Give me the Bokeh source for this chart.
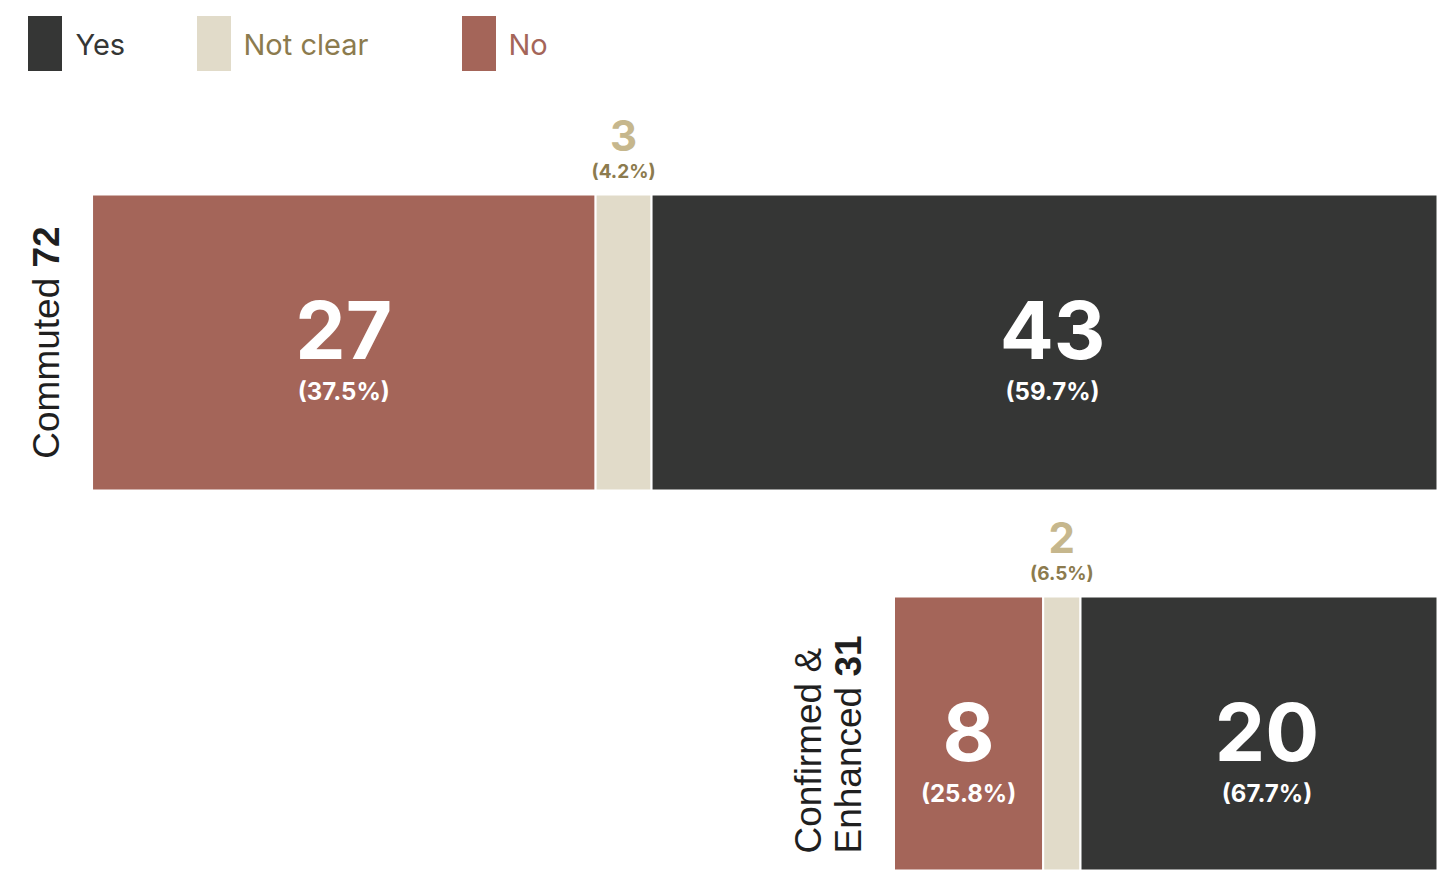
import math
from bokeh.plotting import figure
from bokeh.models import Range1d
from bokeh.embed import file_html
from bokeh.resources import INLINE
from bokeh.core.properties import value

# ---------------- data ----------------
groups = ["Commuted", "Confirmed & Enhanced"]
group_label_lines = [["Commuted"], ["Confirmed &", "Enhanced"]]
group_totals = ["72", "31"]
no_counts = [27, 8]
notclear_counts = [3, 2]
yes_counts = [43, 20]
no_pct = ["(37.5%)", "(25.8%)"]
notclear_pct = ["(4.2%)", "(6.5%)"]
yes_pct = ["(59.7%)", "(67.7%)"]
legend_labels = ["Yes", "Not clear", "No"]

# ---------------- styles ----------------
C_YES = "#353635"
C_NC = "#e1dbc9"
C_NO = "#a46559"
C_NC_NUM = "#c6b78d"
C_NC_TXT = "#8c7b4e"
legend_fill = [C_YES, C_NC, C_NO]
legend_text_col = [C_YES, C_NC_TXT, C_NO]

NUM_FONT = value("Inter")
LAB_FONT = value("Liberation Sans")

W, H = 1437, 870
PAGE_X0, PAGE_Y0 = 0, 0   # where the figure appears in the picture
S = 18.65      # px per count
ROW = 402      # px between bar rows
X_END = 1453   # picture x of value 0 (bars right aligned)
Y_C0 = 342     # picture y of first row centre
BAR_H = 296
LAB_FS = 37
LAB_GAP = 46

# Arial/Liberation Sans advance widths (per 1000 em)
AW = {" ": 278, "C": 722, "o": 556, "m": 833, "u": 556, "t": 278, "e": 556,
      "d": 556, "E": 667, "n": 556, "h": 556, "a": 556, "c": 500, "f": 278,
      "i": 222, "r": 333, "&": 667}


def tw(s, fs):
    return sum(AW.get(ch, 556) for ch in s) / 1000.0 * fs


def xd(px):
    return (px - X_END) / S


def yd(py):
    return (py - Y_C0) / ROW


p = figure(width=W, height=H,
           x_range=Range1d(xd(PAGE_X0), xd(PAGE_X0 + W)),
           y_range=Range1d(yd(PAGE_Y0 + H), yd(PAGE_Y0)),
           x_axis_type=None, y_axis_type=None,
           output_backend="svg", toolbar_location=None,
           min_border=0, outline_line_color=None)
p.background_fill_color = "white"
p.border_fill_color = "white"

n = len(groups)
rows = list(range(n))
yes_left = [-v for v in yes_counts]
yes_right = [0] * n
nc_left = [-(y + c) for y, c in zip(yes_counts, notclear_counts)]
nc_right = yes_left
no_left = [-(y + c + m) for y, c, m in zip(yes_counts, notclear_counts, no_counts)]
no_right = nc_left

bh = BAR_H / ROW
for left, right, col in [(no_left, no_right, C_NO), (nc_left, nc_right, C_NC),
                         (yes_left, yes_right, C_YES)]:
    p.hbar(y=rows, left=left, right=right, height=bh, fill_color=col,
           line_color="white", line_width=2)

# numbers inside bars
for left, right, counts, pcts in [(no_left, no_right, no_counts, no_pct),
                                  (yes_left, yes_right, yes_counts, yes_pct)]:
    xc = [(a + b) / 2 for a, b in zip(left, right)]
    p.text(x=xc, y=[r + (-13) / ROW for r in rows], text=[str(v) for v in counts],
           text_font=NUM_FONT, text_font_size="80px", text_font_style="bold",
           text_color="white", text_align="center", text_baseline="middle")
    p.text(x=xc, y=[r + 49 / ROW for r in rows], text=pcts,
           text_font=NUM_FONT, text_font_size="24px", text_font_style="bold",
           text_color="white", text_align="center", text_baseline="middle")

# "Not clear" numbers above bars
xc = [(a + b) / 2 for a, b in zip(nc_left, nc_right)]
p.text(x=xc, y=[r + (-207) / ROW for r in rows], text=[str(v) for v in notclear_counts],
       text_font=NUM_FONT, text_font_size="42px", text_font_style="bold",
       text_color=C_NC_NUM, text_align="center", text_baseline="middle")
p.text(x=xc, y=[r + (-171) / ROW for r in rows], text=notclear_pct,
       text_font=NUM_FONT, text_font_size="19px", text_font_style="bold",
       text_color=C_NC_TXT, text_align="center", text_baseline="middle")

# rotated group labels
for r in rows:
    lines = group_label_lines[r]
    bar_left_px = X_END + no_left[r] * S
    last = len(lines) - 1
    lengths = [tw(l, LAB_FS) for l in lines]
    lengths[last] += tw(" " + group_totals[r], LAB_FS)
    row_c = Y_C0 + r * ROW
    bottom = row_c + max(lengths) / 2
    for i, line in enumerate(lines):
        base_x = bar_left_px - LAB_GAP - (last - i) * 40
        p.text(x=[xd(base_x)], y=[yd(bottom)], text=[line], angle=math.pi / 2,
               text_font=LAB_FONT, text_font_size=f"{LAB_FS}px",
               text_color="#1f1f1f", text_align="left", text_baseline="alphabetic")
        if i == last:
            start = bottom - tw(line + " ", LAB_FS)
            p.text(x=[xd(base_x)], y=[yd(start)], text=[group_totals[r]],
                   angle=math.pi / 2, text_font=LAB_FONT,
                   text_font_size=f"{LAB_FS}px", text_font_style="bold",
                   text_color="#1f1f1f", text_align="left",
                   text_baseline="alphabetic")

# legend
leg_sq_x = [44.5, 213.5, 478.5]
leg_txt_x = [75, 243, 508]
p.rect(x=[xd(v) for v in leg_sq_x], y=[yd(43)] * 3, width=34, height=55,
       width_units="screen", height_units="screen",
       fill_color=legend_fill, line_color=None)
p.text(x=[xd(v) for v in leg_txt_x], y=[yd(44)] * 3, text=legend_labels,
       text_font=NUM_FONT, text_font_size="29px", text_color=legend_text_col,
       text_align="left", text_baseline="middle")

open("out.html", "w").write(file_html(p, INLINE))
